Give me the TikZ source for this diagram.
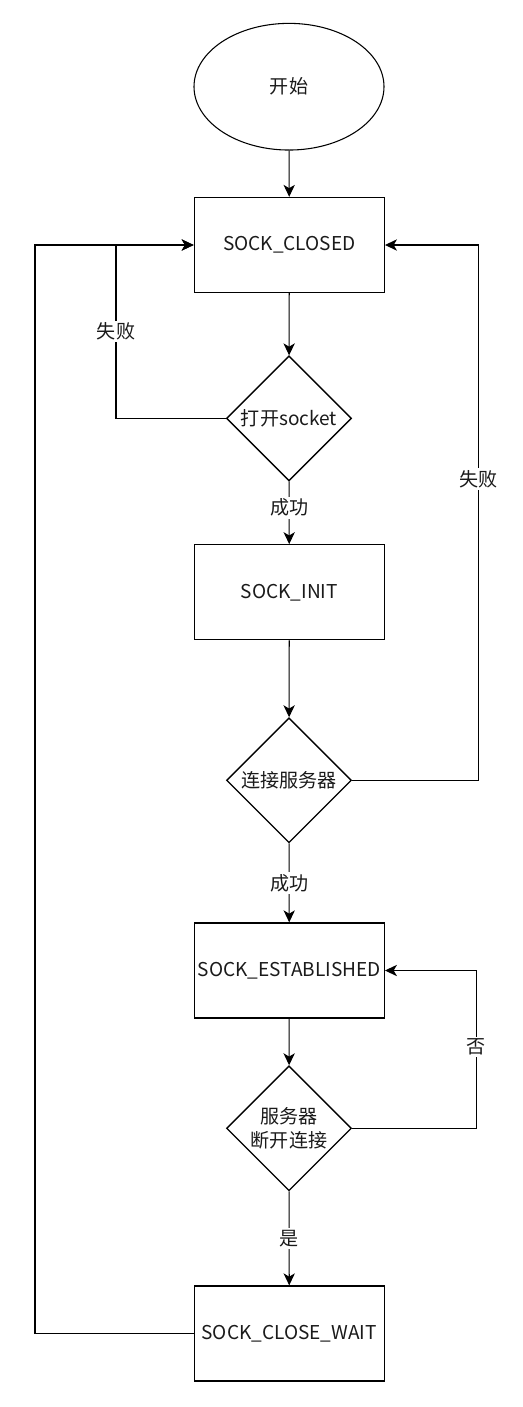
\documentclass[tikz,border=0pt]{standalone}
\usepackage{fontspec}
\setmainfont{Noto Sans CJK SC}
\usetikzlibrary{shapes.geometric,arrows.meta}

\begin{document}
\begin{tikzpicture}[%
x=0.75pt, y=-0.75pt,
every node/.style={font=\fontsize{14.3}{18}\selectfont, text={rgb,255:red,26;green,26;blue,26}, inner sep=0pt},
state/.style={draw=black, line width=1pt, minimum width=142.5pt, minimum height=71.25pt},
test/.style={draw=black, line width=1pt, diamond, aspect=1, minimum width=93.75pt, minimum height=93.75pt, align=center},
terminal/.style={draw=black, line width=0.8pt, ellipse, minimum width=142.5pt, minimum height=95pt},
flow/.style={draw=black, line width=0.8pt, -{Stealth[length=9pt, width=8.5pt, inset=2.5pt]}},
lbl/.style={fill=white, inner sep=1.5pt},
]
\useasboundingbox (0,0) rectangle (522,1407);
%% columns of the loops;
\coordinate (colA) at (116,0);
\coordinate (colB) at (35,0);
\coordinate (colC) at (478.5,0);
\coordinate (colD) at (476.5,0);
%% start;
\node [terminal] (start) at (289,86.7) {开始};
%% states;
\node [state] (closed) at (289.3,245) {SOCK\_CLOSED};
\node [state] (init) at (289.3,592.3) {SOCK\_INIT};
\node [state] (est) at (289.3,970.5) {SOCK\_ESTABLISHED};
\node [state] (wait) at (289.3,1333.5) {SOCK\_CLOSE\_WAIT};
%% tests;
\node [test] (open) at (289,418.4) {打开socket};
\node [test] (conn) at (289,780.3) {连接服务器};
\node [test] (disc) at (289,1128.3) {服务器\\断开连接};
%% edges;
\draw [flow] (start) -- (closed);
\draw [flow] (closed) -- (open);
\draw [flow] (open) -- node [lbl, pos=0.42] {成功} (init);
\draw [flow] (init) -- (conn);
\draw [flow] (conn) -- node [lbl] {成功} (est);
\draw [flow] (est) -- (disc);
\draw [flow] (disc) -- node [lbl] {是} (wait);
%% back edges;
\draw [flow] (open.west) -- (open.west -| colA) -- node [lbl] {失败} (closed.west -| colA) -- (closed.west);
\draw [flow] (conn.east) -- (conn.east -| colC) -- node [lbl, pos=0.563] {失败} (closed.east -| colC) -- (closed.east);
\draw [flow] (disc.east) -- (disc.east -| colD) -- node [lbl, pos=0.516] {否} (est.east -| colD) -- (est.east);
\draw [flow] (wait.west) -- (wait.west -| colB) -- (closed.west -| colB) -- (closed.west);
\end{tikzpicture}
\end{document}
